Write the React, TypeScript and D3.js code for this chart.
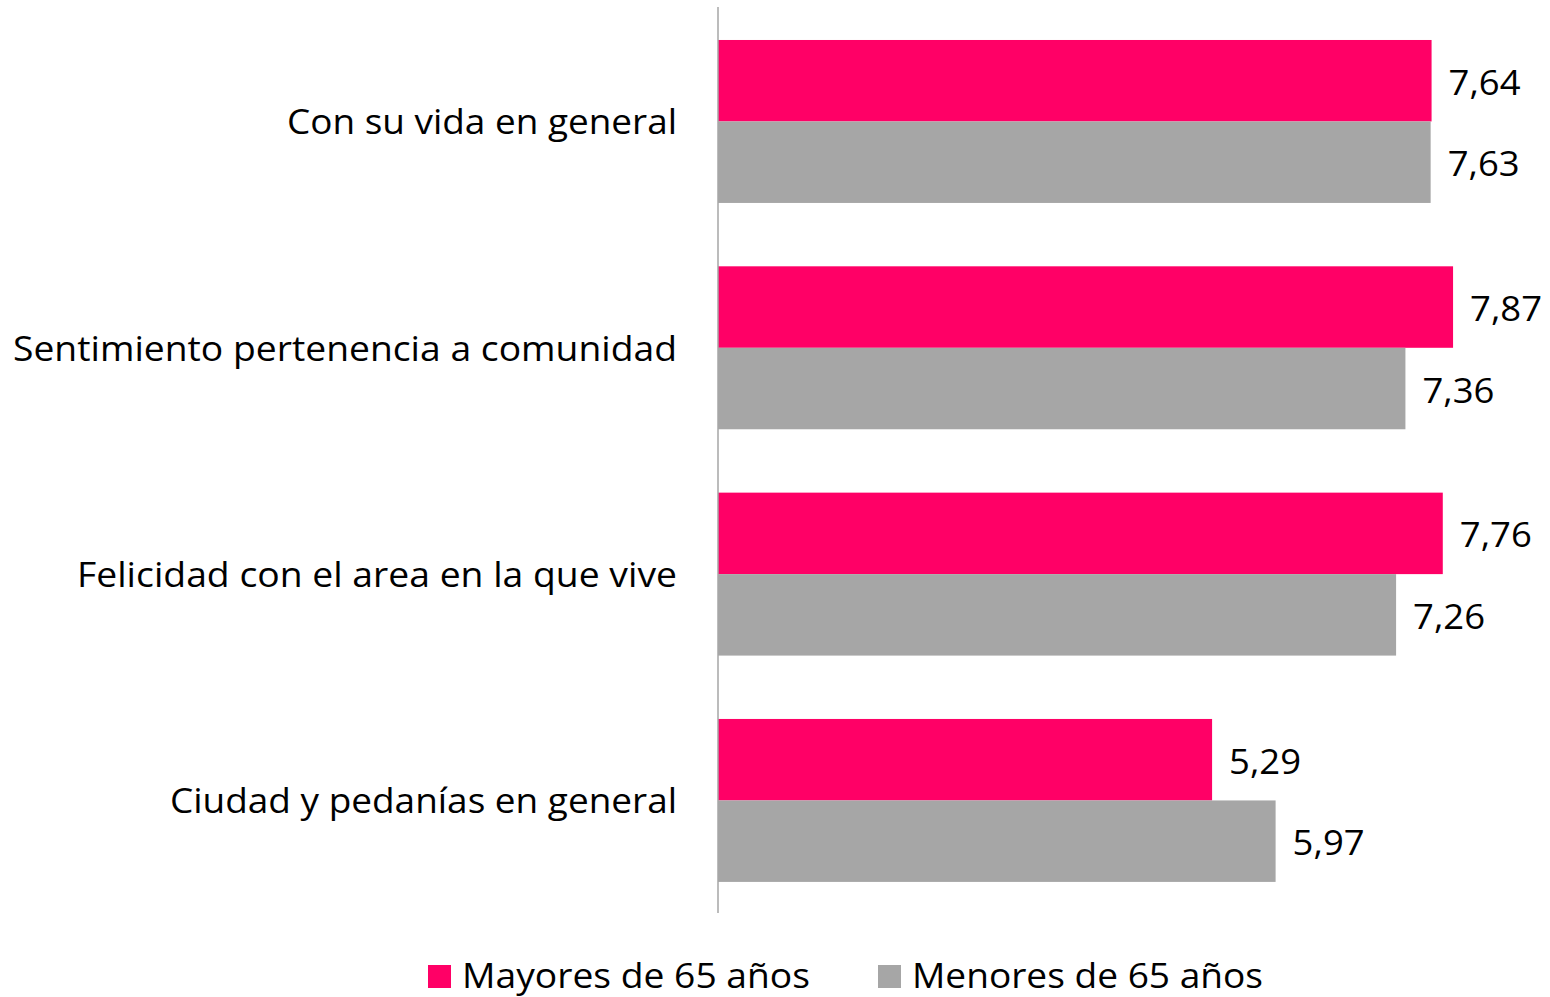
import React from "react";
import * as d3 from "d3";

const categories = [
  "Con su vida en general",
  "Sentimiento pertenencia a comunidad",
  "Felicidad con el area en la que vive",
  "Ciudad y pedanías en general",
];
const seriesNames = ["Mayores de 65 años", "Menores de 65 años"];
const mayores = [7.64, 7.87, 7.76, 5.29];
const menores = [7.63, 7.36, 7.26, 5.97];
const colors = ["#FF0066", "#A6A6A6"];

const W = 1550;
const H = 997;
const FONT = "'Open Sans', 'Noto Sans', sans-serif";

export default function App() {
  const x = d3.scaleLinear().domain([0, 8]).range([718, 718 + 8 * 93.4]);
  const y = d3
    .scaleBand<string>()
    .domain(categories)
    .range([8.3, 913.6])
    .paddingInner(0.28)
    .paddingOuter(0.14);
  const sub = d3
    .scaleBand<string>()
    .domain(seriesNames)
    .range([0, y.bandwidth()]);
  const values = [mayores, menores];
  const fmt = (v: number) => v.toFixed(2).replace(".", ",");
  const labelWidths = [390, 664, 600, 507];

  return (
    <svg
      width={W}
      height={H}
      style={{ position: "absolute", left: 0, top: 0, background: "#fff" }}
      fontFamily={FONT}
    >
      {categories.map((c, i) => (
        <g key={c}>
          {seriesNames.map((s, j) => {
            const v = values[j][i];
            const by = (y(c) as number) + (sub(s) as number);
            return (
              <g key={s}>
                <rect
                  x={x(0)}
                  y={by}
                  width={x(v) - x(0)}
                  height={sub.bandwidth()}
                  fill={colors[j]}
                />
                <text
                  x={x(v) + 17}
                  y={by + sub.bandwidth() / 2 + 14}
                  fontSize={35}
                  fill="#000"
                  textLength={72}
                  lengthAdjust="spacingAndGlyphs"
                >
                  {fmt(v)}
                </text>
              </g>
            );
          })}
          <text
            x={677 - labelWidths[i]}
            y={(y(c) as number) + y.bandwidth() / 2 + 13}
            fontSize={35}
            fill="#000"
            textLength={labelWidths[i]}
            lengthAdjust="spacingAndGlyphs"
          >
            {c}
          </text>
        </g>
      ))}
      <line x1={718} x2={718} y1={7} y2={913} stroke="#A6A6A6" strokeWidth={1.5} />
      {seriesNames.map((s, j) => {
        const lx = j === 0 ? 428 : 878;
        const tw = j === 0 ? 348 : 351;
        return (
          <g key={s}>
            <rect x={lx} y={965} width={23} height={23} fill={colors[j]} />
            <text
              x={lx + 34}
              y={988}
              fontSize={35}
              fill="#000"
              textLength={tw}
              lengthAdjust="spacingAndGlyphs"
            >
              {s}
            </text>
          </g>
        );
      })}
    </svg>
  );
}
